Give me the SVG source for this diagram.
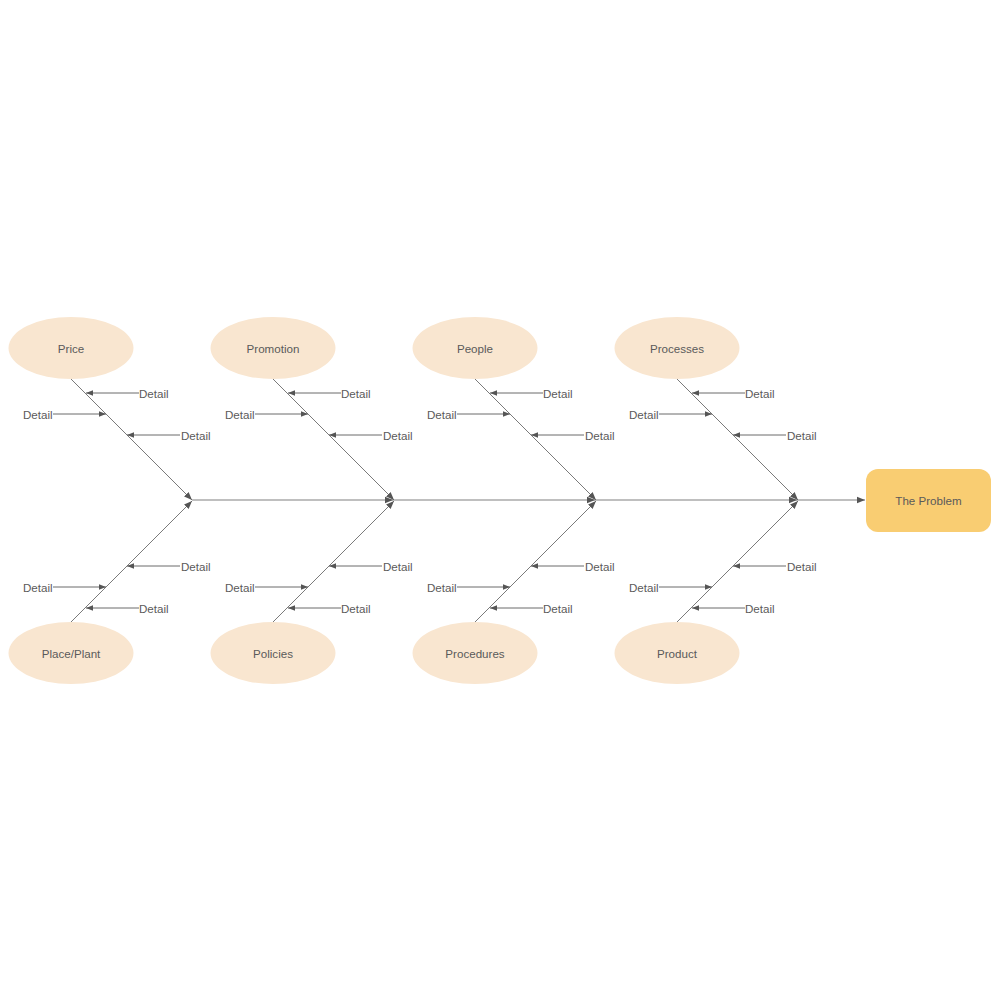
<svg xmlns="http://www.w3.org/2000/svg" width="1000" height="1000" viewBox="0 0 1000 1000">
<style>
.cat{fill:#f9e6d0;stroke:none}
.prob{fill:#f9cd72;stroke:none}
text{font-family:"Liberation Sans",Arial,sans-serif;font-size:11.6px;fill:#5a5a5a}
.c{text-anchor:middle;dominant-baseline:central}
.d{dominant-baseline:central}
.bone{stroke:#7a7a7a;stroke-width:1;fill:none}
.spine{stroke:#808080;stroke-width:1.2;fill:none}
.det{stroke:#6a6a6a;stroke-width:1;fill:none}
</style>
<defs>
<marker id="ah" viewBox="0 0 10 10" refX="10" refY="5" markerWidth="8" markerHeight="8" markerUnits="userSpaceOnUse" orient="auto"><path d="M0,1 L10,5 L0,9 Z" fill="#555"/></marker>
<marker id="ahs" viewBox="0 0 10 10" refX="10" refY="5" markerWidth="7" markerHeight="7" markerUnits="userSpaceOnUse" orient="auto"><path d="M0,1 L10,5 L0,9 Z" fill="#555"/></marker>
</defs>
<g id="connectors">
<path class="spine" d="M192,500 H393" marker-end="url(#ah)"/>
<path class="spine" d="M393,500 H595" marker-end="url(#ah)"/>
<path class="spine" d="M595,500 H797" marker-end="url(#ah)"/>
<path class="spine" d="M797,500 H865" marker-end="url(#ah)"/>
<g id="bones">
<g transform="translate(0,0)">
<path class="bone" d="M71,379 L192,500" marker-end="url(#ah)"/>
<path class="bone" d="M71,622 L192,501" marker-end="url(#ah)"/>
<path class="det" d="M139,393 H86" marker-end="url(#ahs)"/>
<path class="det" d="M53,414 H106" marker-end="url(#ahs)"/>
<path class="det" d="M180,435 H127" marker-end="url(#ahs)"/>
<path class="det" d="M180,566 H127" marker-end="url(#ahs)"/>
<path class="det" d="M53,587 H106" marker-end="url(#ahs)"/>
<path class="det" d="M139,608 H86" marker-end="url(#ahs)"/>
</g>
<g transform="translate(202,0)">
<path class="bone" d="M71,379 L192,500" marker-end="url(#ah)"/>
<path class="bone" d="M71,622 L192,501" marker-end="url(#ah)"/>
<path class="det" d="M139,393 H86" marker-end="url(#ahs)"/>
<path class="det" d="M53,414 H106" marker-end="url(#ahs)"/>
<path class="det" d="M180,435 H127" marker-end="url(#ahs)"/>
<path class="det" d="M180,566 H127" marker-end="url(#ahs)"/>
<path class="det" d="M53,587 H106" marker-end="url(#ahs)"/>
<path class="det" d="M139,608 H86" marker-end="url(#ahs)"/>
</g>
<g transform="translate(404,0)">
<path class="bone" d="M71,379 L192,500" marker-end="url(#ah)"/>
<path class="bone" d="M71,622 L192,501" marker-end="url(#ah)"/>
<path class="det" d="M139,393 H86" marker-end="url(#ahs)"/>
<path class="det" d="M53,414 H106" marker-end="url(#ahs)"/>
<path class="det" d="M180,435 H127" marker-end="url(#ahs)"/>
<path class="det" d="M180,566 H127" marker-end="url(#ahs)"/>
<path class="det" d="M53,587 H106" marker-end="url(#ahs)"/>
<path class="det" d="M139,608 H86" marker-end="url(#ahs)"/>
</g>
<g transform="translate(606,0)">
<path class="bone" d="M71,379 L192,500" marker-end="url(#ah)"/>
<path class="bone" d="M71,622 L192,501" marker-end="url(#ah)"/>
<path class="det" d="M139,393 H86" marker-end="url(#ahs)"/>
<path class="det" d="M53,414 H106" marker-end="url(#ahs)"/>
<path class="det" d="M180,435 H127" marker-end="url(#ahs)"/>
<path class="det" d="M180,566 H127" marker-end="url(#ahs)"/>
<path class="det" d="M53,587 H106" marker-end="url(#ahs)"/>
<path class="det" d="M139,608 H86" marker-end="url(#ahs)"/>
</g>
</g>
</g>
<g id="details">
<g transform="translate(0,0)"><text class="d" x="139" y="393">Detail</text><text class="d" x="23" y="414">Detail</text><text class="d" x="181" y="435">Detail</text><text class="d" x="181" y="566">Detail</text><text class="d" x="23" y="587">Detail</text><text class="d" x="139" y="608">Detail</text></g>
<g transform="translate(202,0)"><text class="d" x="139" y="393">Detail</text><text class="d" x="23" y="414">Detail</text><text class="d" x="181" y="435">Detail</text><text class="d" x="181" y="566">Detail</text><text class="d" x="23" y="587">Detail</text><text class="d" x="139" y="608">Detail</text></g>
<g transform="translate(404,0)"><text class="d" x="139" y="393">Detail</text><text class="d" x="23" y="414">Detail</text><text class="d" x="181" y="435">Detail</text><text class="d" x="181" y="566">Detail</text><text class="d" x="23" y="587">Detail</text><text class="d" x="139" y="608">Detail</text></g>
<g transform="translate(606,0)"><text class="d" x="139" y="393">Detail</text><text class="d" x="23" y="414">Detail</text><text class="d" x="181" y="435">Detail</text><text class="d" x="181" y="566">Detail</text><text class="d" x="23" y="587">Detail</text><text class="d" x="139" y="608">Detail</text></g>
</g>
<g id="price"><ellipse class="cat" cx="71" cy="348" rx="62.5" ry="31"/><text class="c" x="71" y="348">Price</text></g>
<g id="promotion"><ellipse class="cat" cx="273" cy="348" rx="62.5" ry="31"/><text class="c" x="273" y="348">Promotion</text></g>
<g id="people"><ellipse class="cat" cx="475" cy="348" rx="62.5" ry="31"/><text class="c" x="475" y="348">People</text></g>
<g id="processes"><ellipse class="cat" cx="677" cy="348" rx="62.5" ry="31"/><text class="c" x="677" y="348">Processes</text></g>
<g id="place-plant"><ellipse class="cat" cx="71" cy="653" rx="62.5" ry="31"/><text class="c" x="71" y="653">Place/Plant</text></g>
<g id="policies"><ellipse class="cat" cx="273" cy="653" rx="62.5" ry="31"/><text class="c" x="273" y="653">Policies</text></g>
<g id="procedures"><ellipse class="cat" cx="475" cy="653" rx="62.5" ry="31"/><text class="c" x="475" y="653">Procedures</text></g>
<g id="product"><ellipse class="cat" cx="677" cy="653" rx="62.5" ry="31"/><text class="c" x="677" y="653">Product</text></g>
<g id="problem"><rect class="prob" x="866" y="469" width="125" height="63" rx="12"/><text class="c" x="928.5" y="500.5">The Problem</text></g>
</svg>
